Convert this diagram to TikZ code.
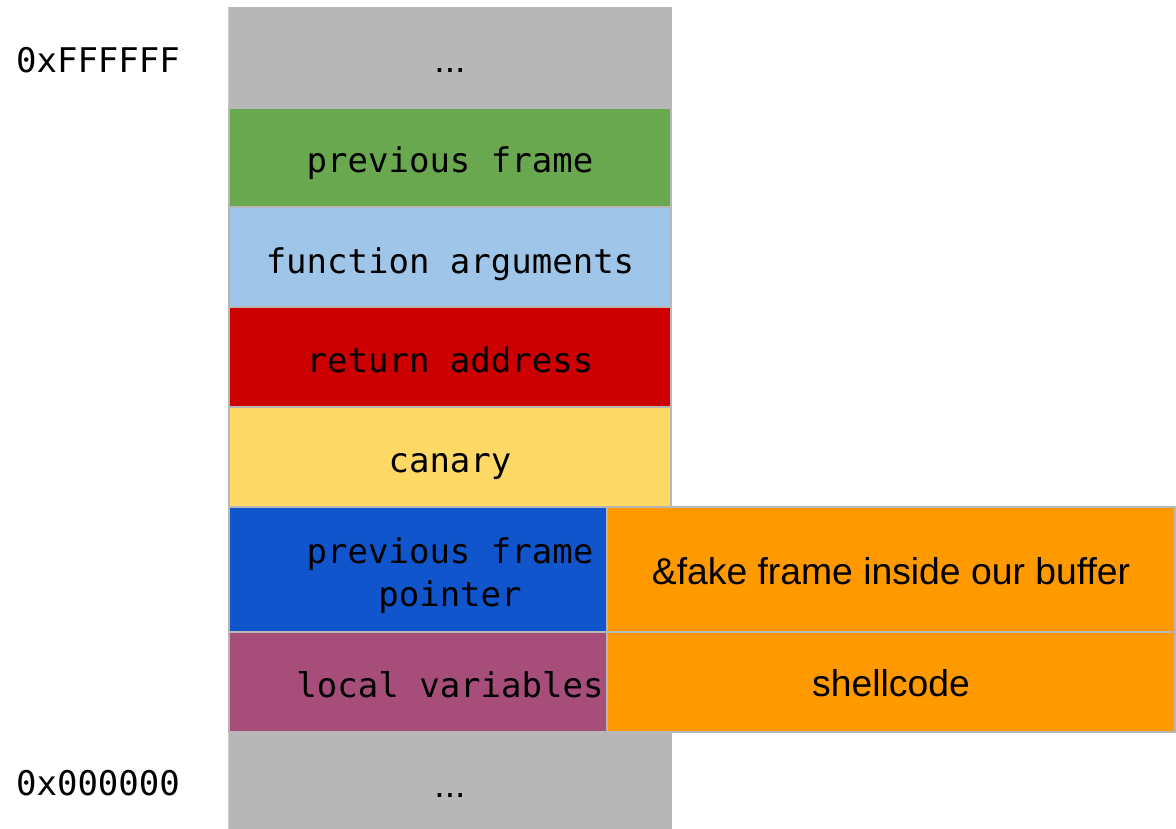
\documentclass[tikz,border=0pt]{standalone}
\usepackage{fontspec}
\setmainfont{Liberation Sans}
\newfontfamily\monof{DejaVu Sans Mono}
\definecolor{cgray}{HTML}{B7B7B7}
\definecolor{cgreen}{HTML}{6AA84F}
\definecolor{clblue}{HTML}{9FC5E8}
\definecolor{cred}{HTML}{CC0000}
\definecolor{cyellow}{HTML}{FFD966}
\definecolor{cblue}{HTML}{1155CC}
\definecolor{cpurple}{HTML}{A64D79}
\definecolor{corange}{HTML}{FF9900}
\begin{document}
\begin{tikzpicture}[x=1pt,y=-1pt,
  cell/.style={draw=cgray,line width=2pt},
  mono/.style={font=\monof\fontsize{34}{42}\selectfont,anchor=base,inner sep=0pt},
  sans/.style={font=\fontsize{37.3}{44}\selectfont,anchor=base,inner sep=0pt}]
\useasboundingbox (0,0) rectangle (1176,829);
% gray column
\fill[cgray] (228,7) rectangle (672,829);
\draw[color=cgray!70,line width=1pt] (228.5,7) -- (228.5,829);
% rows
\draw[cell,fill=cgreen]  (229,108) rectangle (671,207);
\draw[cell,fill=clblue]  (229,207) rectangle (671,307);
\draw[cell,fill=cred]    (229,307) rectangle (671,407);
\draw[cell,fill=cyellow] (229,407) rectangle (671,507);
\draw[cell,fill=cblue]   (229,507) rectangle (607,632);
\draw[cell,fill=cpurple] (229,632) rectangle (607,732);
% orange boxes
\draw[cell,fill=corange] (607,507) rectangle (1175,632);
\draw[cell,fill=corange] (607,632) rectangle (1175,732);
% texts
\node[sans] (topdots) at (450,73) {...};
\node[sans] (botdots) at (450,797) {...};
\node[mono] (hi) at (98,73) {0xFFFFFF};
\node[mono] (lo) at (98,795) {0x000000};
\node[mono] (prev) at (450,173) {previous frame};
\node[mono] (args) at (450,273) {function arguments};
\node[mono] (ret) at (450,372) {return address};
\node[mono] (can) at (450,472) {canary};
\node[mono] (pfp1) at (450,563) {previous frame};
\node[mono] (pfp2) at (450,606) {pointer};
\node[mono] (loc) at (450,697) {local variables};
\node[sans] (fake) at (891,584) {\&fake frame inside our buffer};
\node[sans] (shell) at (891,696) {shellcode};
\end{tikzpicture}
\end{document}
